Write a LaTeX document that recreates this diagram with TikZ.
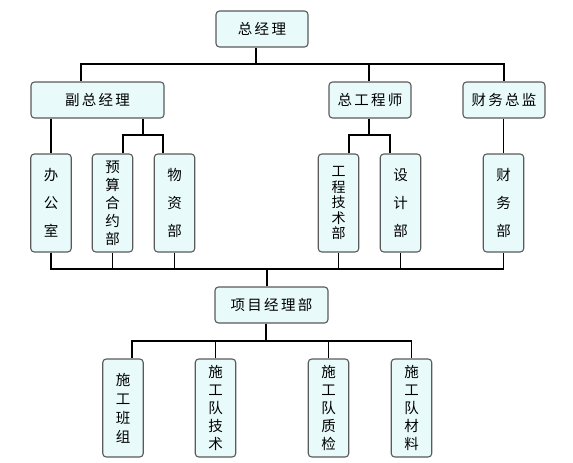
\documentclass[tikz,border=0pt]{standalone}
\usepackage{fontspec}
\newfontfamily\cjk[LetterSpace=16]{Noto Sans CJK SC}
\newfontfamily\cjkv{Noto Sans CJK SC}
\definecolor{boxfill}{RGB}{232,250,250}
\definecolor{boxline}{RGB}{90,90,90}
\begin{document}
\begin{tikzpicture}[x=1pt,y=-1pt,
  box/.style={draw=boxline, fill=boxfill, rounded corners=3.5pt, line width=1.1pt,
     inner sep=0pt, anchor=center},
  hbox/.style={box, minimum height=36pt, font=\cjk\fontsize{14.5}{16}\selectfont},
  vbox/.style={box, minimum width=40.5pt, minimum height=98pt, align=center},
  vthree/.style={vbox, font=\cjkv\fontsize{14.5}{28}\selectfont},
  vfour/.style={vbox, font=\cjkv\fontsize{14.5}{19}\selectfont},
  vfive/.style={vbox, font=\cjkv\fontsize{14.5}{18}\selectfont},
  vfivet/.style={vbox, font=\cjkv\fontsize{14}{15.5}\selectfont},
  link/.style={line width=1.6pt, black}]
\useasboundingbox (0,0) rectangle (573,463);

% level 1
\node[hbox, minimum width=92pt] (zjl) at (262,29) {总经理};
% level 2
\node[hbox, minimum width=133pt] (fzjl) at (97.5,100) {副总经理};
\node[hbox, minimum width=82pt] (zgcs) at (370,100) {总工程师};
\node[hbox, minimum width=82pt] (cwzj) at (504,100) {财务总监};
% level 3
\node[vthree] (bgs) at (51,203) {办\\公\\室};
\node[vfive] (ysh) at (112.5,203) {预\\算\\合\\约\\部};
\node[vthree] (wzb) at (174.5,203) {物\\资\\部};
\node[vfivet] (gcjs) at (338.5,203) {工\\程\\技\\术\\部};
\node[vthree] (sjb) at (400.5,203) {设\\计\\部};
\node[vthree] (cwb) at (503.5,203) {财\\务\\部};
% project dept
\node[hbox, minimum width=113pt] (xm) at (271.5,305) {项目经理部};
% level 5
\node[vfour] (sgbz) at (123,408) {施\\工\\班\\组};
\node[vfive] (sgjs) at (215.5,408) {施\\工\\队\\技\\术};
\node[vfive] (sgzj) at (328.5,408) {施\\工\\队\\质\\检};
\node[vfive] (sgcl) at (411.5,408) {施\\工\\队\\材\\料};

% bus coordinates
\coordinate (b1) at (0,64);
\coordinate (b2) at (143,135);
\coordinate (b3) at (369,135);
\coordinate (b4) at (0,269);
\coordinate (b5) at (0,341);

% top bus
\draw[link] ([xshift=-6pt]zjl.south) -- ([xshift=-6pt]zjl.south |- b1);
\draw[link] (fzjl.north -| 81,0) |- (b1 -| cwzj.north) -- (cwzj.north);
\draw[link] (zgcs.north -| 369,0) -- (b1 -| 369,0);

% under 副总经理
\draw[link] (fzjl.south -| bgs.north) -- (bgs.north);
\draw[link] (fzjl.south -| b2) -- (b2);
\draw[link] ([xshift=10.5pt]ysh.north) |- (b2) -| ([xshift=-11.5pt]wzb.north);
% under 总工程师
\draw[link] (zgcs.south -| b3) -- (b3);
\draw[link] ([xshift=10.5pt]gcjs.north) |- (b3) -| ([xshift=-10.5pt]sjb.north);
% under 财务总监
\draw[link] (cwzj.south -| cwb.north) -- (cwb.north);

% lower bus
\draw[link] (bgs.south) |- (b4 -| cwb.south) -- (cwb.south);
\draw[link] (ysh.south) -- (ysh.south |- b4);
\draw[link] (wzb.south) -- (wzb.south |- b4);
\draw[link] (gcjs.south) -- (gcjs.south |- b4);
\draw[link] (sjb.south) -- (sjb.south |- b4);
\draw[link] ([xshift=-4.5pt]xm.north) -- ([xshift=-4.5pt]xm.north |- b4);

% project bus
\draw[link] ([xshift=-5.5pt]xm.south) -- ([xshift=-5.5pt]xm.south |- b5);
\draw[link] ([xshift=9pt]sgbz.north) |- (b5 -| sgcl.north) -- (sgcl.north);
\draw[link] (sgjs.north) -- (sgjs.north |- b5);
\draw[link] (sgzj.north) -- (sgzj.north |- b5);
\end{tikzpicture}
\end{document}
